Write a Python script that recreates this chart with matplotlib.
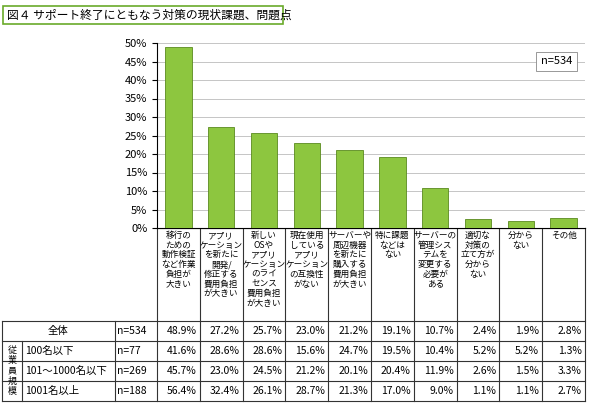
import matplotlib
matplotlib.use("Agg")
import matplotlib.pyplot as plt
from matplotlib.patches import Rectangle

plt.rcParams['font.family'] = ['Noto Sans CJK JP', 'DejaVu Sans']

title = "図４ サポート終了にともなう対策の現状課題、問題点"
categories = ["移行の\nための\n動作検証\nなど作業\n負担が\n大きい",
              "アプリ\nケーション\nを新たに\n開発/\n修正する\n費用負担\nが大きい",
              "新しい\nOSや\nアプリ\nケーション\nのライ\nセンス\n費用負担\nが大きい",
              "現在使用\nしている\nアプリ\nケーション\nの互換性\nがない",
              "サーバーや\n周辺機器\nを新たに\n購入する\n費用負担\nが大きい",
              "特に課題\nなどは\nない",
              "サーバーの\n管理シス\nテムを\n変更する\n必要が\nある",
              "適切な\n対策の\n立て方が\n分から\nない",
              "分から\nない", "その他"]
total = [48.9, 27.2, 25.7, 23.0, 21.2, 19.1, 10.7, 2.4, 1.9, 2.8]
rows = ["100名以下", "101～1000名以下", "1001名以上"]
row_n = ["n=77", "n=269", "n=188"]
row_vals = [[41.6, 28.6, 28.6, 15.6, 24.7, 19.5, 10.4, 5.2, 5.2, 1.3],
            [45.7, 23.0, 24.5, 21.2, 20.1, 20.4, 11.9, 2.6, 1.5, 3.3],
            [56.4, 32.4, 26.1, 28.7, 21.3, 17.0, 9.0, 1.1, 1.1, 2.7]]
yticks = list(range(0, 51, 5))

W, H = 590, 409
fig = plt.figure(figsize=(W/100, H/100), dpi=100)
bg = fig.add_axes([0, 0, 1, 1])
bg.set_xlim(0, W); bg.set_ylim(H, 0); bg.axis('off')

x0, x1 = 157, 585
ytop, ybot = 43, 228
ax = fig.add_axes([x0/W, 1-ybot/H, (x1-x0)/W, (ybot-ytop)/H])
n = len(categories)
ax.bar(range(n), total, width=0.62, color='#8dc63f', edgecolor='#5a8a1f', linewidth=0.6, zorder=3)
ax.set_xlim(-0.5, n-0.5); ax.set_ylim(0, 50)
ax.set_yticks(yticks)
ax.set_yticklabels([f"{v}%" for v in yticks], fontsize=8)
ax.set_xticks([])
ax.yaxis.grid(True, color='#bbbbbb', linewidth=0.6, zorder=0)
for s in ['top', 'right']:
    ax.spines[s].set_visible(False)
ax.text(0.97, 0.9, "n=534", transform=ax.transAxes, ha='right', va='center', fontsize=8,
        bbox=dict(boxstyle='square,pad=0.4', fc='white', ec='#888888', lw=0.6))

# title
bg.add_patch(Rectangle((3, 6), 280, 18, fc='white', ec='#6aaa2a', lw=1.2))
bg.text(7, 15, title, fontsize=8.5, va='center', ha='left')

cw = (x1 - x0) / n
lc = '#333333'
for i, c in enumerate(categories):
    bg.text(x0 + cw*(i+0.5), 231, c, ha='center', va='top', fontsize=6.2, linespacing=1.1)
for i in range(n+1):
    bg.plot([x0+cw*i]*2, [228, 401], color=lc, lw=0.8)
row_y = [321, 341, 361, 381, 401]
for y in row_y:
    bg.plot([2, x1], [y, y], color=lc, lw=0.8)
bg.plot([2, 2], [321, 401], color=lc, lw=0.8)
bg.plot([115, 115], [321, 401], color=lc, lw=0.8)
bg.plot([22, 22], [341, 401], color=lc, lw=0.8)
bg.plot([x0, x1], [228, 228], color=lc, lw=0.8)

fs = 7.5
bg.text(58, 331, "全体", ha='center', va='center', fontsize=fs)
bg.text(117, 331, "n=534", ha='left', va='center', fontsize=fs)
for i in range(n):
    bg.text(x0+cw*(i+1)-3, 331, f"{total[i]:.1f}%", ha='right', va='center', fontsize=fs)
for r in range(3):
    yc = (row_y[r+1] + row_y[r+2]) / 2
    bg.text(25, yc, rows[r], ha='left', va='center', fontsize=fs)
    bg.text(117, yc, row_n[r], ha='left', va='center', fontsize=fs)
    for i in range(n):
        bg.text(x0+cw*(i+1)-3, yc, f"{row_vals[r][i]:.1f}%", ha='right', va='center', fontsize=fs)
bg.text(12, 371, "従\n業\n員\n規\n模", ha='center', va='center', fontsize=6.5, linespacing=1.15)

fig.savefig("out.png", dpi=100)
